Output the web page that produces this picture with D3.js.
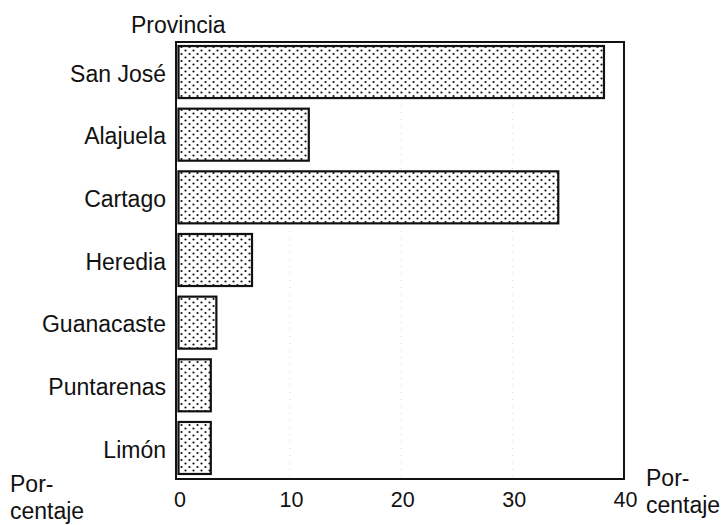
<!DOCTYPE html>
<html>
<head>
<meta charset="utf-8">
<script src="https://cdn.jsdelivr.net/npm/d3@7"></script>
<style>
  body { margin: 0; background: #fff; }
  text { font-family: "Liberation Sans", Arial, sans-serif; fill: #111; }
</style>
</head>
<body>
<div id="chart"></div>
<script>
// Chart data
var provinces = ["San José", "Alajuela", "Cartago", "Heredia", "Guanacaste", "Puntarenas", "Limón"];
var percentages = [38.2, 11.7, 34.1, 6.6, 3.4, 2.9, 2.9];
var xTicks = [0, 10, 20, 30, 40];

var svgWidth = 726;
var svgHeight = 525;
var fontSize = "23px";

var svg = d3.select("#chart")
  .append("svg")
  .attr("width", svgWidth)
  .attr("height", svgHeight);

// dotted fill pattern
var defs = svg.append("defs");
var pattern = defs.append("pattern")
  .attr("id", "dots")
  .attr("patternUnits", "userSpaceOnUse")
  .attr("width", 8)
  .attr("height", 7);
pattern.append("rect").attr("width", 8).attr("height", 7).attr("fill", "#fff");
pattern.append("circle").attr("cx", 1.5).attr("cy", 1.5).attr("r", 1.1).attr("fill", "#111");
pattern.append("circle").attr("cx", 5.5).attr("cy", 5).attr("r", 1.1).attr("fill", "#111");

// scales
var xScale = d3.scaleLinear()
  .domain([0, 40])
  .range([178.5, 624]);

var yScale = d3.scaleBand()
  .domain(provinces)
  .range([40.7, 479.3])
  .paddingInner(0.17)
  .paddingOuter(0.085);

var frameTop = 42;
var frameBottom = 479;
var frameLeft = 176;

// faint grid lines
svg.selectAll(".grid")
  .data(xTicks.slice(1, -1))
  .enter()
  .append("line")
  .attr("x1", d => xScale(d))
  .attr("x2", d => xScale(d))
  .attr("y1", frameTop)
  .attr("y2", frameBottom)
  .attr("stroke", "#ccc")
  .attr("stroke-width", 0.8)
  .attr("stroke-dasharray", "1,6");

// bars
svg.selectAll(".bar")
  .data(percentages)
  .enter()
  .append("rect")
  .attr("x", xScale(0))
  .attr("y", (d, i) => yScale(provinces[i]))
  .attr("width", d => xScale(d) - xScale(0))
  .attr("height", yScale.bandwidth())
  .attr("fill", "url(#dots)")
  .attr("stroke", "#111")
  .attr("stroke-width", 2.2);

// frame
svg.append("rect")
  .attr("x", frameLeft)
  .attr("y", frameTop)
  .attr("width", xScale(40) - frameLeft)
  .attr("height", frameBottom - frameTop)
  .attr("fill", "none")
  .attr("stroke", "#111")
  .attr("stroke-width", 2);

// x axis tick labels
var xAxis = d3.axisBottom(xScale)
  .tickValues(xTicks)
  .tickSize(0)
  .tickPadding(13);

var xAxisG = svg.append("g")
  .attr("transform", `translate(1, ${frameBottom})`)
  .call(xAxis);
xAxisG.select(".domain").remove();
xAxisG.selectAll("text")
  .attr("font-size", "21.5px")
  .attr("font-family", "Liberation Sans, Arial, sans-serif")
  .attr("fill", "#111");

// y axis labels
var yAxis = d3.axisLeft(yScale)
  .tickSize(0)
  .tickPadding(0);

var yAxisG = svg.append("g")
  .attr("transform", "translate(166, 0)")
  .call(yAxis);
yAxisG.select(".domain").remove();
yAxisG.selectAll("text")
  .attr("font-size", fontSize)
  .attr("font-family", "Liberation Sans, Arial, sans-serif")
  .attr("dy", "0.42em")
  .attr("fill", "#111");

// axis titles
svg.append("text")
  .attr("x", 131)
  .attr("y", 33)
  .attr("font-size", fontSize)
  .text("Provincia");

// left "Por-centaje" label
svg.append("text")
  .attr("x", 10)
  .attr("y", 492)
  .attr("font-size", fontSize)
  .text("Por-");
svg.append("text")
  .attr("x", 10)
  .attr("y", 519)
  .attr("font-size", fontSize)
  .text("centaje");

// right "Por-centaje" label
svg.append("text")
  .attr("x", 646)
  .attr("y", 486)
  .attr("font-size", fontSize)
  .text("Por-");
svg.append("text")
  .attr("x", 646)
  .attr("y", 513)
  .attr("font-size", fontSize)
  .text("centaje");
</script>
</body>
</html>
